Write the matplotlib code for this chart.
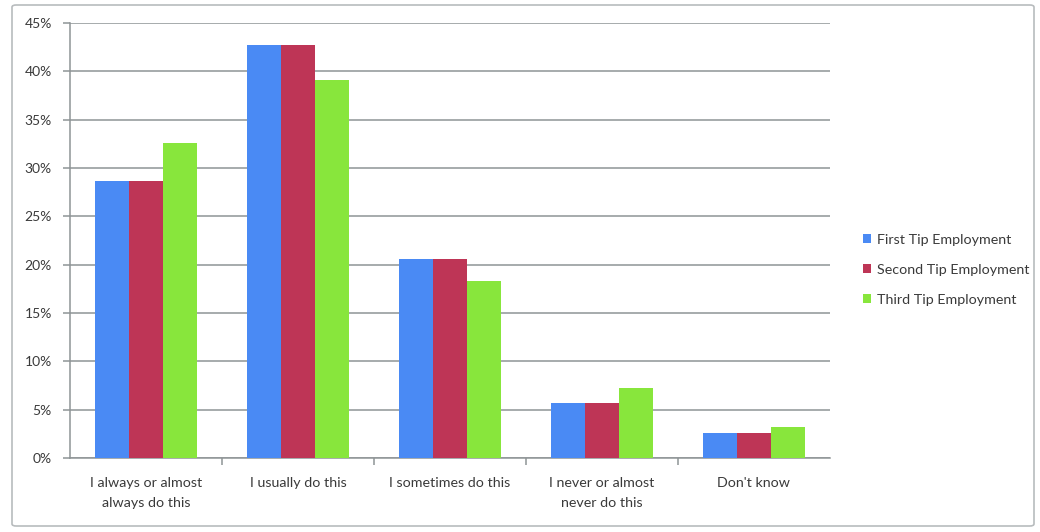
import matplotlib
matplotlib.use("Agg")
import matplotlib.pyplot as plt
from matplotlib.patches import FancyBboxPatch
import numpy as np

categories = ["I always or almost\nalways do this", "I usually do this", "I sometimes do this",
              "I never or almost\nnever do this", "Don't know"]
series_names = ["First Tip Employment", "Second Tip Employment", "Third Tip Employment"]
first_tip = [28.7, 42.7, 20.6, 5.7, 2.6]
second_tip = [28.7, 42.7, 20.6, 5.7, 2.6]
third_tip = [32.6, 39.1, 18.3, 7.2, 3.2]
y_ticks = [0, 5, 10, 15, 20, 25, 30, 35, 40, 45]

colors = ["#4a8af4", "#be3556", "#88e63c"]
text_color = "#3a3a3a"
grid_color = "#8e9496"

plt.rcParams['font.family'] = ['Lato', 'DejaVu Sans']

fig = plt.figure(figsize=(10.4, 5.32), dpi=100)
fig.patch.set_facecolor("white")
border = FancyBboxPatch((12 / 1040, 6 / 532), 1022 / 1040, 521 / 532,
                        boxstyle="round,pad=0,rounding_size=0.004",
                        transform=fig.transFigure, facecolor="none",
                        edgecolor="#b8bcbe", linewidth=1.2)
fig.patches.append(border)

ax = fig.add_axes([70 / 1040, 1 - 458 / 532, 760 / 1040, 435 / 532])
x = np.arange(len(categories))
w = 0.224
for i, vals in enumerate([first_tip, second_tip, third_tip]):
    ax.bar(x + (i - 1) * w, vals, width=w, color=colors[i], label=series_names[i], zorder=3)

ax.set_xlim(-0.5, len(categories) - 0.5)
ax.set_ylim(0, 45)
ax.set_yticks(y_ticks)
ax.set_yticklabels([f"{t}%" for t in y_ticks], color=text_color, fontsize=10)
ax.yaxis.grid(True, color=grid_color, linewidth=1.1, zorder=0)
ax.set_axisbelow(True)

ax.set_xticks(x)
ax.set_xticklabels(categories, color=text_color, fontsize=10.3, linespacing=1.75)
ax.tick_params(axis='x', length=0, pad=14)
ax.set_xticks(np.arange(0.5, len(categories) - 0.5, 1), minor=True)
ax.tick_params(axis='x', which='minor', length=5, color=grid_color, width=1.1)
ax.tick_params(axis='y', length=5, color=grid_color, width=1.1, pad=8)

for side in ["top", "right"]:
    ax.spines[side].set_visible(False)
for side in ["left", "bottom"]:
    ax.spines[side].set_color(grid_color)
    ax.spines[side].set_linewidth(1.1)

leg = fig.legend(loc="upper left", bbox_to_anchor=(850 / 1040, 1 - 221 / 532),
                 frameon=False, fontsize=10.3, handlelength=0.6, handleheight=0.6,
                 handletextpad=0.4, labelspacing=1.25, labelcolor=text_color)

fig.savefig("out.png", dpi=100, facecolor="white")
